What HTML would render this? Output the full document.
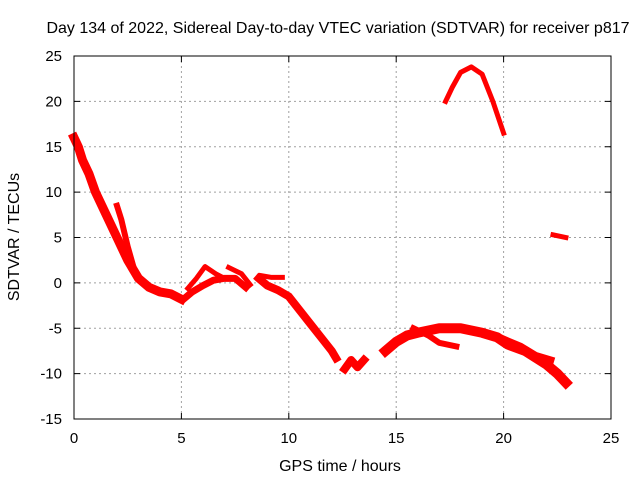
<!DOCTYPE html>
<html><head><meta charset="utf-8"><style>
body{margin:0;background:#fff;}
svg{display:block;font-family:"Liberation Sans",sans-serif;font-size:14px;}
</style></head><body>
<svg id="chart" width="640" height="480">
<text x="338" y="33" text-anchor="middle" font-size="16">Day 134 of 2022, Sidereal Day-to-day VTEC variation (SDTVAR) for receiver p817</text>
<text x="340" y="471" text-anchor="middle" font-size="16">GPS time / hours</text>
<text transform="translate(19,237) rotate(-90)" text-anchor="middle" font-size="16">SDTVAR / TECUs</text>
<g id="grid"></g><g id="ticks"></g><g id="marks"></g>
<rect x="74" y="56" width="537" height="363" fill="none" stroke="#000" stroke-width="1"/>
</svg>
<script>
const xTicks=[0,5,10,15,20,25];
const yTicks=[-15,-10,-5,0,5,10,15,20,25];
const trackMain=[[0,16],[0.2,15],[0.4,13.5],[0.7,12],[1,10],[1.5,7.5],[2,5],[2.5,2.5],[3,0.5],[3.5,-0.5],[4,-1],[4.5,-1.2],[5,-1.8]];
const trackMain2=[[2.0,8.5],[2.2,7],[2.5,4],[2.8,1.5]];
const trackB=[[5.1,-1.8],[5.5,-1],[6,-0.3],[6.5,0.3],[7,0.5],[7.5,0.5],[8,-0.5]];
const trackB2=[[5.3,-0.6],[5.7,0.5],[6.1,1.8],[6.6,1],[7,0.5]];
const trackB3=[[7.2,1.7],[7.8,1],[8.2,-0.2]];
const trackC=[[8.6,0.5],[9,-0.3],[9.5,-0.8],[10,-1.5],[10.5,-3],[11,-4.5],[11.5,-6],[12,-7.5],[12.2,-8.3]];
const trackC2=[[8.7,0.8],[9.2,0.6],[9.7,0.6]];
const trackD=[[12.6,-9.5],[12.9,-8.5],[13.2,-9.3],[13.5,-8.5]];
const trackE=[[14.5,-7.5],[15,-6.5],[15.5,-5.8],[16,-5.5],[17,-5],[18,-5],[19,-5.5],[19.7,-6],[20.2,-6.8],[21,-7.5],[22,-9],[22.5,-10],[22.9,-11]];
const trackE2=[[15.8,-5],[16.5,-5.8],[17,-6.6],[17.8,-7]];
const trackE3=[[20,-6.2],[20.8,-7],[21.5,-8],[22.2,-8.5]];
const trackF=[[17.3,20],[17.6,21.5],[18,23.2],[18.5,23.8],[19,23],[19.5,20],[20,16.5]];
const trackG=[[22.3,5.3],[22.9,5]];
const tracks=[trackMain,trackMain2,trackB,trackB2,trackB3,trackC,trackC2,trackD,trackE,trackE2,trackE3,trackF,trackG];
const widths=[9,6,7,5,5,8,5,8,10,6,7,5,5];
const X0=74,X1=611,Y0=419,Y1=56;
function sx(v){return X0+(v-0)/25*(X1-X0);}
function sy(v){return Y0-(v+15)/40*(Y0-Y1);}
const NS="http://www.w3.org/2000/svg";
const grid=document.getElementById('grid'),ticks=document.getElementById('ticks'),marks=document.getElementById('marks');
function mk(tag,attrs,parent){const e=document.createElementNS(NS,tag);for(const k in attrs)e.setAttribute(k,attrs[k]);parent.appendChild(e);return e;}
xTicks.forEach(t=>{const x=sx(t);
 if(t>0&&t<25){const g=mk('line',{x1:x,x2:x,y1:Y1,y2:Y0,stroke:'#a0a0a0','stroke-dasharray':'2,3'},grid);
 
 }
 mk('line',{x1:x,x2:x,y1:Y0,y2:Y0-6,stroke:'#000'},ticks);mk('line',{x1:x,x2:x,y1:Y1,y2:Y1+6,stroke:'#000'},ticks);
 const l=mk('text',{x:x,y:443,'text-anchor':'middle','font-size':15},ticks);l.textContent=t;
 
 });
yTicks.forEach(t=>{const y=sy(t);
 if(t>-15&&t<25){const g=mk('line',{x1:X0,x2:X1,y1:y,y2:y,stroke:'#a0a0a0','stroke-dasharray':'2,3'},grid);
 
 }
 mk('line',{x1:X0,x2:X0+6,y1:y,y2:y,stroke:'#000'},ticks);mk('line',{x1:X1,x2:X1-6,y1:y,y2:y,stroke:'#000'},ticks);
 const l=mk('text',{x:62,y:y+5,'text-anchor':'end','font-size':15},ticks);l.textContent=t;
 
 });
tracks.forEach((tr,i)=>{
 const p=mk('polyline',{points:tr.map(d=>sx(d[0])+','+sy(d[1])).join(' '),fill:'none',stroke:'#ff0000','stroke-width':widths[i],'stroke-linejoin':'round','stroke-linecap':'square'},marks);
 
 
});
</script>
</body></html>
